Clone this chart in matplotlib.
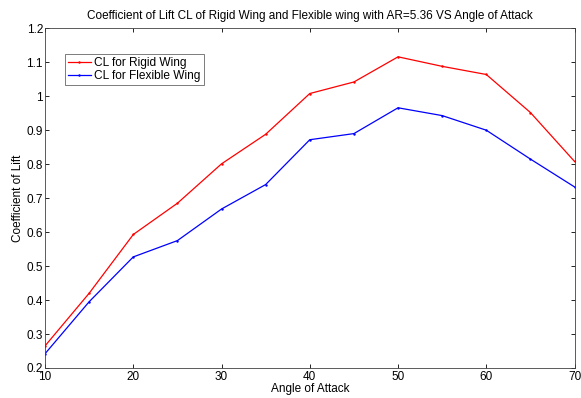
import numpy as np
import matplotlib
matplotlib.use('Agg')
import matplotlib.pyplot as plt

plt.rcParams['font.family'] = ['Liberation Sans', 'DejaVu Sans']
plt.rcParams['font.size'] = 8.5

aoa = [10, 15, 20, 25, 30, 35, 40, 45, 50, 55, 60, 65, 70]
cl_rigid = [0.265, 0.42, 0.593, 0.685, 0.801, 0.888, 1.008, 1.042, 1.116, 1.088, 1.064, 0.952, 0.808]
cl_flex = [0.242, 0.395, 0.527, 0.575, 0.668, 0.74, 0.872, 0.89, 0.966, 0.943, 0.9, 0.815, 0.733]

fig = plt.figure(figsize=(5.81, 3.98), dpi=100)
ax = fig.add_axes([0.0775, 0.0754, 0.9114, 0.8535])

ax.plot(aoa, cl_rigid, color='red', marker='.', markersize=1.5, linewidth=0.9, label='CL for Rigid Wing')
ax.plot(aoa, cl_flex, color='blue', marker='.', markersize=1.5, linewidth=0.9, label='CL for Flexible Wing')

ax.set_xlim(10, 70)
ax.set_ylim(0.2, 1.2)
ax.set_xticks(np.arange(10, 71, 10))
ax.set_yticks(np.arange(0.2, 1.21, 0.1))
ax.set_yticklabels(['0.2', '0.3', '0.4', '0.5', '0.6', '0.7', '0.8', '0.9', '1', '1.1', '1.2'])
ax.tick_params(direction='in', top=True, right=True, length=3, width=0.6, labelsize=8.5)
ax.tick_params(axis='y', pad=1.5)
ax.tick_params(axis='x', pad=2.5)
for s in ax.spines.values():
    s.set_linewidth(0.6)
    s.set_color('#404040')

ax.set_xlabel('Angle of Attack', fontsize=8.5, labelpad=0)
ax.set_ylabel('Coefficient of Lift', fontsize=8.5, labelpad=2)
ax.set_title('Coefficient of Lift CL of Rigid Wing and Flexible wing with AR=5.36 VS Angle of Attack', fontsize=8.5, pad=7)

leg = ax.legend(loc='upper left', bbox_to_anchor=(0.038, 0.925), fontsize=8.6, fancybox=False,
                handlelength=1.9, handletextpad=0.3, borderpad=0.25, labelspacing=0.1, borderaxespad=0)
leg.get_frame().set_edgecolor('#404040')
leg.get_frame().set_linewidth(0.6)

fig.savefig('out.png', dpi=100)
